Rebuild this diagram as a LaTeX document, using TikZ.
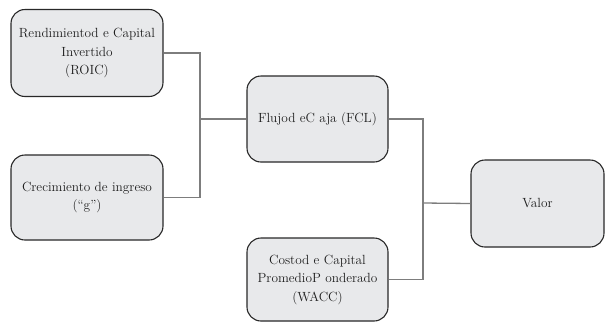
\documentclass[tikz,border=0pt]{standalone}
\definecolor{boxfill}{RGB}{232,233,235}
\definecolor{boxline}{RGB}{40,40,40}
\definecolor{conn}{RGB}{125,125,125}
\definecolor{txt}{RGB}{30,30,30}
\begin{document}
\begin{tikzpicture}[x=1pt,y=-1pt,
  box/.style={draw=boxline, line width=1.1pt, fill=boxfill, rounded corners=14pt, align=center, text=txt,
    font=\rmfamily\fontsize{13.3}{18.5}\selectfont, inner sep=0pt},
  link/.style={draw=conn, line width=1.3pt}]
\useasboundingbox (0,0) rectangle (605,322);
\node[box, minimum width=152pt, minimum height=87pt] (roic) at (87,53) {Rendimientod e Capital\\Invertido\\(ROIC)};
\node[box, minimum width=152pt, minimum height=85pt] (g) at (87,197.5) {Crecimiento de ingreso\\(``g'')};
\node[box, minimum width=141pt, minimum height=86pt] (fcl) at (317.5,119) {Flujod eC aja (FCL)};
\node[box, minimum width=141pt, minimum height=83pt] (wacc) at (317.5,279.5) {Costod e Capital\\PromedioP onderado\\(WACC)};
\node[box, minimum width=133pt, minimum height=87pt] (valor) at (537.5,203.5) {Valor};
\coordinate (j1) at (200,119);
\coordinate (j2) at (423,203);
\draw[link] (roic.east) -| (j1) |- (g.east);
\draw[link] (j1) -- (fcl.west);
\draw[link] (fcl.east) -| (j2) |- (wacc.east);
\draw[link] (j2) -- (valor.west);
\end{tikzpicture}
\end{document}
